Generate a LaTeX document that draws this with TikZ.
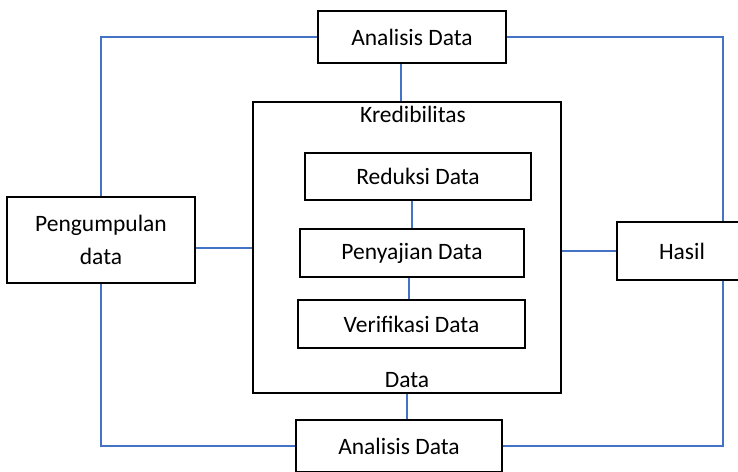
\documentclass[tikz,border=0pt]{standalone}
\usepackage{fontspec}
\setmainfont{Carlito}
\usetikzlibrary{calc,positioning}
\definecolor{lineblue}{RGB}{68,114,196}

\begin{document}
\begin{tikzpicture}[x=1pt, y=-1pt,
  box/.style={draw, line width=2.6pt, inner sep=0pt, align=center, font=\fontsize{23.5}{33}\selectfont},
  lbl/.style={inner sep=0pt, font=\fontsize{23.5}{33}\selectfont},
  con/.style={draw=lineblue, line width=1.9pt}]
\useasboundingbox (0,0) rectangle (738,471);
\clip (0,0) rectangle (738,471);
\node[box, minimum width=188pt, minimum height=52pt] (atas) at (412,37) {Analisis Data};
\node[box, minimum width=188pt, minimum height=86pt] (kumpul) at (101,240) {Pengumpulan\\data};
\node[box, minimum width=308pt, minimum height=291pt] (kred) at (407,247.5) {};
\node[lbl] (kredlbl) at (413,114) {Kredibilitas};
\node[lbl] (datalbl) at (407,380) {Data};
\node[box, minimum width=226pt, minimum height=47pt] (reduksi) at (418,176.5) {Reduksi Data};
\node[box, minimum width=224pt, minimum height=48pt] (saji) at (412,253) {Penyajian Data};
\node[box, minimum width=227pt, minimum height=48pt] (verif) at (411.5,324) {Verifikasi Data};
\node[box, minimum width=130pt, minimum height=58pt] (hasil) at (682,251) {Hasil};
\node[box, minimum width=206pt, minimum height=52pt] (bawah) at (399,446) {Analisis Data};
\coordinate (kanan) at (723,0);

\draw[con] (atas.west) -| (kumpul.north);
\draw[con] (atas.east) -| (kanan |- hasil.north);
\draw[con] (kumpul.south) |- (bawah.west);
\draw[con] (bawah.east) -| (kanan |- hasil.south);
\draw[con] ([xshift=-11pt]atas.south) -- ([xshift=-11pt]atas.south |- kred.north);
\draw[con] (kred.south) -- (kred.south |- bawah.north);
\draw[con] ([yshift=-8pt]kumpul.east) -- ([yshift=-8pt]kumpul.east -| kred.west);
\draw[con] (hasil.west) -- (hasil.west -| kred.east);
\draw[con] (saji.north) -- (saji.north |- reduksi.south);
\draw[con] ([xshift=-3pt]saji.south) -- ([xshift=-3pt]saji.south |- verif.north);
\end{tikzpicture}
\end{document}
